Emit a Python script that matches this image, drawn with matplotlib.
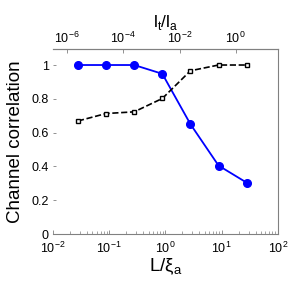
import numpy as np
import matplotlib
matplotlib.use('Agg')
import matplotlib.pyplot as plt

plt.rcParams['font.family'] = ['Liberation Sans', 'DejaVu Sans']
plt.rcParams['mathtext.fontset'] = 'custom'
plt.rcParams['mathtext.rm'] = 'Liberation Sans'

# data
L_xi = [0.0278, 0.0879, 0.278, 0.879, 2.78, 8.79, 27.8]
corr_blue = [1.0, 1.0, 1.0, 0.948, 0.65, 0.405, 0.304]
corr_black = [0.669, 0.713, 0.723, 0.802, 0.966, 1.0, 1.0]
yticks = [0, 0.2, 0.4, 0.6, 0.8, 1]
ytick_labels = ['0', '0.2', '0.4', '0.6', '0.8', '1']
top_ticks = [1e-6, 1e-4, 1e-2, 1e0]

fig = plt.figure(figsize=(2.96, 2.83), dpi=100)
ax = fig.add_axes([0.179, 0.173, 0.760, 0.654])

ax.plot(L_xi, corr_blue, '-o', color='#0000ff', lw=1.3, ms=5.5)
ax.plot(L_xi, corr_black, '--s', color='black', lw=1.2, ms=3.5,
        mfc='white', mec='black', mew=1.0)

ax.set_xscale('log')
ax.set_xlim(1e-2, 1e2)
ax.set_ylim(0, 1.095)
ax.set_yticks(yticks)
ax.set_yticklabels(ytick_labels)

for s in ['top', 'right', 'bottom']:
    ax.spines[s].set_color('#808080')
    ax.spines[s].set_linewidth(0.8)
ax.spines['left'].set_visible(False)

ax.tick_params(axis='both', which='both', direction='in', labelsize=9,
               color='#808080')
ax.tick_params(axis='y', length=2, width=0.6, pad=3)
ax.tick_params(axis='x', which='major', length=3, width=0.6, pad=5)
ax.tick_params(axis='x', which='minor', length=2, width=0.5)

ax.set_xlabel(r'L/ξ$_\mathrm{a}$', fontsize=13.5, labelpad=0)
ax.set_ylabel('Channel correlation', fontsize=13.5, labelpad=5)

# top axis: l_t/l_a
k = 10 ** -2.5
top = ax.secondary_xaxis('top', functions=(lambda x: k * np.asarray(x) ** 2,
                                           lambda t: np.sqrt(np.asarray(t) / k)))
top.set_xticks(top_ticks)
top.minorticks_off()
top.tick_params(direction='in', length=3, width=0.6, labelsize=9, pad=2,
                color='#808080')
top.spines['top'].set_color('#808080')
top.set_xlabel(r'l$_\mathrm{t}$/l$_\mathrm{a}$', fontsize=12.5, labelpad=3)

fig.savefig('out.png', dpi=100)
